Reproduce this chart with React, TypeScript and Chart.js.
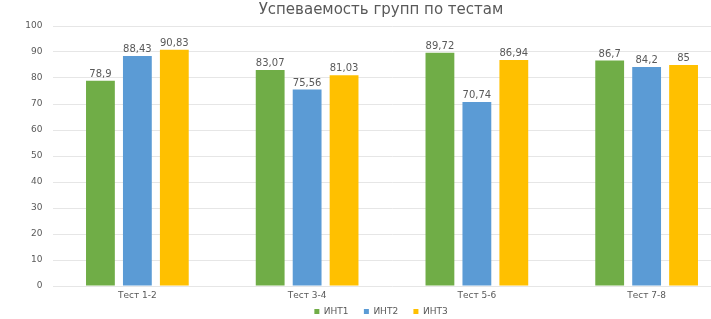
import React, { useEffect, useRef } from "react";
import { Chart, registerables } from "chart.js";

Chart.register(...registerables);

const categories = ["Тест 1-2", "Тест 3-4", "Тест 5-6", "Тест 7-8"];
const seriesNames = ["ИНТ1", "ИНТ2", "ИНТ3"];
const int1 = [78.9, 83.07, 89.72, 86.7];
const int2 = [88.43, 75.56, 70.74, 84.2];
const int3 = [90.83, 81.03, 86.94, 85];
const colors = ["#70ad47", "#5b9bd5", "#ffc000"];
const yTicks = [0, 10, 20, 30, 40, 50, 60, 70, 80, 90, 100];
const title = "Успеваемость групп по тестам";

const FONT = "'DejaVu Sans', sans-serif";
const TEXT = "#595959";

const valueLabels = {
  id: "valueLabels",
  afterDatasetsDraw(chart: any) {
    const ctx = chart.ctx;
    ctx.save();
    ctx.font = `10px ${FONT}`;
    ctx.fillStyle = TEXT;
    ctx.textAlign = "center";
    ctx.textBaseline = "bottom";
    chart.data.datasets.forEach((ds: any, i: number) => {
      const meta = chart.getDatasetMeta(i);
      meta.data.forEach((el: any, j: number) => {
        const v = ds.data[j];
        ctx.fillText(String(v).replace(".", ","), el.x, el.y - 1.5);
      });
    });
    ctx.restore();
  },
};

// widen the y-scale box to the canvas edge so its tick labels are not clipped
const widenY = {
  id: "widenY",
  afterLayout(chart: any) {
    chart.scales.y.left = 0;
  },
};

export default function App() {
  const ref = useRef<HTMLCanvasElement>(null);
  useEffect(() => {
    const data = [int1, int2, int3];
    const chart = new Chart(ref.current!, {
      type: "bar",
      data: {
        labels: categories,
        datasets: seriesNames.map((name, i) => ({
          label: name,
          data: data[i],
          backgroundColor: colors[i],
          categoryPercentage: 0.653,
          barPercentage: 0.78,
        })),
      },
      options: {
        responsive: false,
        animation: false,
        layout: { padding: { left: 30.5, right: 30.5, top: 0, bottom: -7 } },
        plugins: {
          title: {
            display: true,
            text: title,
            color: TEXT,
            font: { family: FONT, size: 15, weight: "normal" },
            padding: { top: 1, bottom: 7 },
          },
          legend: {
            position: "bottom",
            labels: {
              color: TEXT,
              font: { family: FONT, size: 9 },
              boxWidth: 5,
              boxHeight: 5,
              padding: 1,
              generateLabels: (chart: any) => {
                const items = Chart.defaults.plugins.legend.labels.generateLabels(chart);
                return items.map((it: any, i: number) => ({
                  ...it,
                  text: i < items.length - 1 ? it.text + "     " : it.text,
                }));
              },
            },
          },
          tooltip: { enabled: false },
        },
        scales: {
          x: {
            grid: { display: false, drawTicks: false },
            border: { display: false },
            ticks: { color: TEXT, font: { family: FONT, size: 9 }, padding: 4.6 },
          },
          y: {
            min: 0,
            max: 100,
            afterBuildTicks: (scale: any) => {
              scale.ticks = yTicks.map((v) => ({ value: v }));
            },
            afterFit: (scale: any) => {
              scale.width = 22;
            },
            grid: { color: "#e6e6e6", drawTicks: false },
            border: { display: false },
            ticks: { color: TEXT, font: { family: FONT, size: 9 }, padding: 10 },
          },
        },
      },
      plugins: [valueLabels, widenY],
    });
    return () => chart.destroy();
  }, []);
  return (
    <div style={{ position: "fixed", left: 0, top: 0, width: 711, height: 319, overflow: "hidden", background: "#fff" }}>
      <canvas ref={ref} width={762} height={319} />
    </div>
  );
}
